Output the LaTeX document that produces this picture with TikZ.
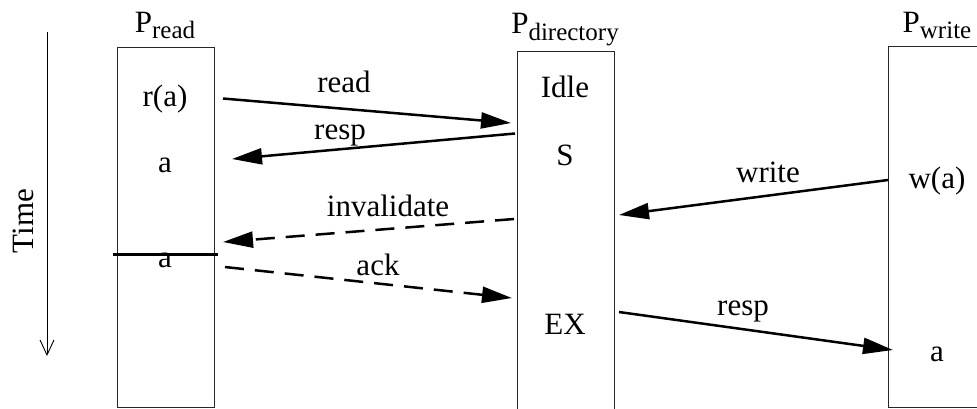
\documentclass[tikz,border=0pt]{standalone}
\usepackage{fontspec}
\setmainfont{Liberation Serif}
\usetikzlibrary{arrows.meta}
\newcommand{\Sub}[1]{\raisebox{-6.5pt}{\fontsize{25}{27}\selectfont #1}}
\begin{document}
\begin{tikzpicture}[x=1pt,y=-1pt,
  txt/.style={font=\fontsize{31}{35}\selectfont, inner sep=0pt, anchor=base},
  procbox/.style={draw=black!85, line width=1.1pt, minimum width=97pt, minimum height=360pt, anchor=north west, inner sep=0pt},
  msg/.style={line width=2.5pt, -{Triangle[length=30pt,width=16pt]}},
  dmsg/.style={msg, dash pattern=on 19pt off 11pt},
  timearrow/.style={line width=0.9pt, -{Straight Barb[length=15pt,width=14pt,line width=0.9pt]}}
]
\useasboundingbox (0,0) rectangle (977,408);
% boxes
\node[procbox] (rbox) at (117,47) {};
\node[procbox] (dbox) at (517,51) {};
\node[procbox, minimum height=361pt] (wbox) at (888,46) {};
% titles
\node[txt] (rtitle) at (165,32) {P\Sub{read}};
\node[txt] (dtitle) at (565,33.5) {P\Sub{directory}};
\node[txt] (wtitle) at (937,32) {P\Sub{write}};
% time
\coordinate (t0) at (47,32);
\coordinate (t1) at (47,356);
\draw[timearrow] (t0) -- (t1);
\node[txt, rotate=90] (time) at (33,221) {Time};
% states
\node[txt] (ra) at (165,106) {r(a)};
\node[txt] (a1) at (165,172.5) {a};
\node[txt] (a2) at (165,267) {a};
\node[txt] (idle) at (565,97.5) {Idle};
\node[txt] (s) at (565,165) {S};
\node[txt] (ex) at (565,334) {EX};
\node[txt] (wa) at (937,188) {w(a)};
\node[txt] (a3) at (937,361) {a};
% horizontal line
\coordinate (h0) at (113,254);
\coordinate (h1) at (218,254);
\draw[line width=3pt] (h0) -- (h1);
% message endpoints
\coordinate (p1) at (223,98.5);
\coordinate (q1) at (511,123);
\coordinate (p2) at (515,133.5);
\coordinate (q2) at (232,159);
\coordinate (p3) at (514,219);
\coordinate (q3) at (223,242);
\coordinate (p4) at (225,267);
\coordinate (q4) at (512,298);
\coordinate (p5) at (888,180);
\coordinate (q5) at (619,215);
\coordinate (p6) at (619,312);
\coordinate (q6) at (893,350);
\draw[msg] (p1) -- (q1);
\draw[msg] (p2) -- (q2);
\draw[dmsg] (p3) -- (q3);
\draw[dmsg] (p4) -- (q4);
\draw[msg] (p5) -- (q5);
\draw[msg] (p6) -- (q6);
% message labels
\node[txt] (l1) at (344,92) {read};
\node[txt] (l2) at (340,139) {resp};
\node[txt] (l3) at (388,216.5) {invalidate};
\node[txt] (l4) at (378,275) {ack};
\node[txt] (l5) at (768,182) {write};
\node[txt] (l6) at (743,315) {resp};
\end{tikzpicture}
\end{document}
